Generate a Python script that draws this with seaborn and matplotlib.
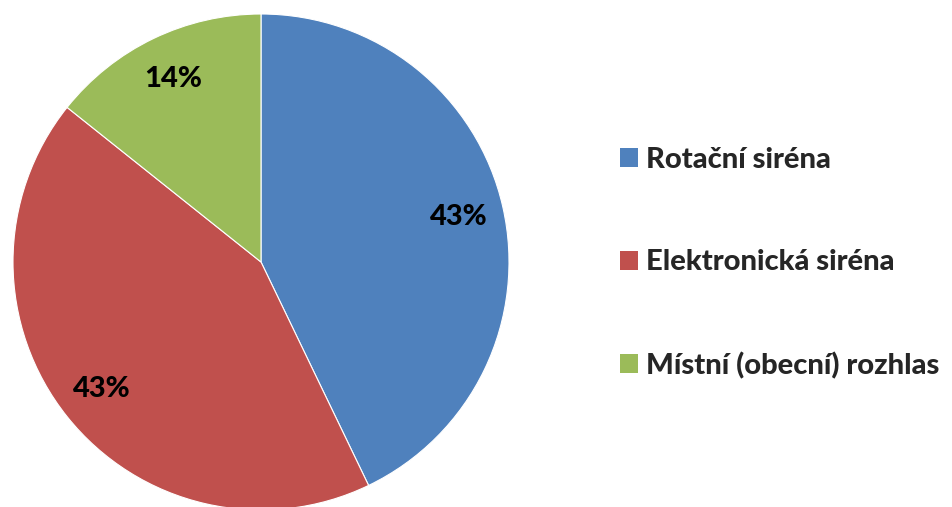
import matplotlib
matplotlib.use("Agg")
import matplotlib.pyplot as plt
import seaborn as sns

categories = ["Rotační siréna", "Elektronická siréna", "Místní (obecní) rozhlas"]
values = [3, 3, 1]
colors = ["#4F81BD", "#C0504D", "#9BBB59"]

sns.set_theme(style="white")
plt.rcParams["font.family"] = ["Lato", "DejaVu Sans"]

fig = plt.figure(figsize=(9.52, 5.07), dpi=100)
W, H = 952, 507
cx, cy, r = 261, 262, 248
ax = fig.add_axes([(cx - r) / W, (H - cy - r) / H, 2 * r / W, 2 * r / H])
ax.set_axis_off()

FS = 21
wedges, texts, autotexts = ax.pie(
    values,
    colors=colors,
    startangle=90,
    counterclock=False,
    autopct=lambda p: f"{p:.0f}%",
    pctdistance=0.82,
    radius=1.0,
    wedgeprops=dict(edgecolor="white", linewidth=0.8),
    textprops=dict(fontsize=FS, fontweight=900, color="black"),
)
ax.set_xlim(-1, 1)
ax.set_ylim(-1, 1)

leg = fig.legend(
    wedges,
    categories,
    loc="center left",
    bbox_to_anchor=(620 / W, (H - 263) / H),
    frameon=False,
    prop=dict(size=FS, weight=900),
    handlelength=0.62,
    handleheight=0.62,
    handletextpad=0.27,
    labelspacing=2.62,
    borderpad=0,
    borderaxespad=0,
)
for h in leg.legend_handles:
    h.set_edgecolor("none")

fig.savefig("out.png", dpi=100)
